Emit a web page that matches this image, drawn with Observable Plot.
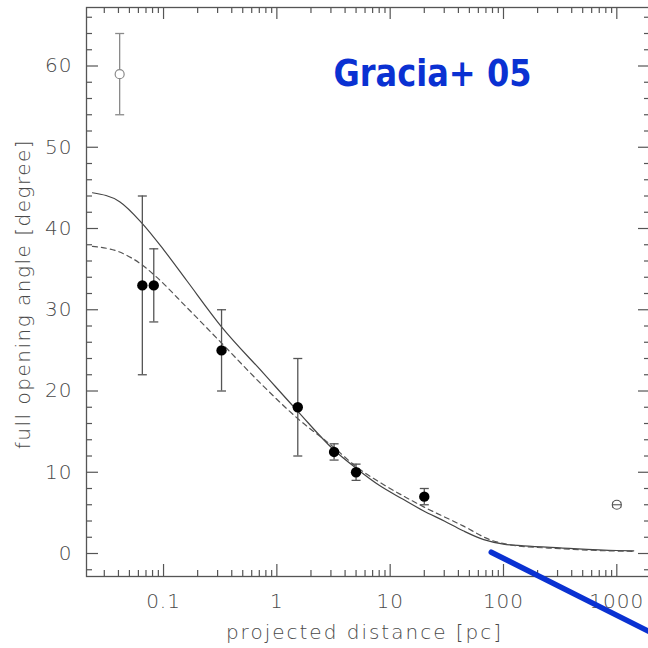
<!DOCTYPE html>
<html><head><meta charset="utf-8">
<script src="https://cdn.jsdelivr.net/npm/d3@7"></script>
<script src="https://cdn.jsdelivr.net/npm/@observablehq/plot@0.6"></script>
<style>
html,body{margin:0;padding:0;background:#fff;overflow:hidden;width:648px;height:648px}
#chart svg{max-width:none !important}
#chart svg .tk text{letter-spacing:1px}
#chart svg .lblx text{letter-spacing:2px}
#chart svg .lbly text{letter-spacing:1.5px}
</style>
</head><body><div id="chart"></div>
<script>
// measured points (filled) with error bars
const obsX  = [0.065, 0.082, 0.325, 1.53, 3.2, 5.0, 20];
const obsY  = [33, 33, 25, 18, 12.5, 10, 7];
const obsLo = [22, 28.5, 20, 12, 11.5, 9, 6];
const obsHi = [44, 37.5, 30, 24, 13.5, 11, 8];
// open points
const openX  = [0.041, 1000];
const openY  = [59, 6];
const openLo = [54, 5.7];
const openHi = [64, 6.3];
const openColor = ["#8a8a8a", "#555"];
// model curves
const solidX = [0.0236, 0.041, 0.065, 0.1, 0.16, 0.325, 0.76, 1.53, 3.16, 5.0, 8.0, 12.9, 19.4, 30, 44, 67, 100, 150, 316, 1000, 1410];
const solidY = [44.4, 43.3, 40.6, 37.4, 33.6, 27.9, 22.2, 17.5, 12.8, 10.5, 8.4, 6.7, 5.3, 4.0, 2.8, 1.7, 1.15, 0.95, 0.7, 0.37, 0.33];
const dashX  = [0.0236, 0.041, 0.065, 0.084, 0.16, 0.325, 0.76, 1.53, 3.16, 5.0, 8.0, 13.8, 19.4, 44, 76, 124, 316, 1000, 1410];
const dashY  = [37.8, 37.1, 35.5, 34.2, 30.3, 25.9, 20.6, 16.6, 13.1, 10.7, 8.8, 6.9, 5.8, 3.4, 1.7, 1.0, 0.6, 0.3, 0.27];
// blue annotation stroke
const blueX = [78, 2500];
const blueY = [0.16, -10.4];
// ticks
const xMajor = [0.1, 1, 10, 100, 1000];
const xTickLabels = ["0.1", "1", "10", "100", "1000"];
const yMajor = [0, 10, 20, 30, 40, 50, 60];
const yTickLabels = ["0", "10", "20", "30", "40", "50", "60"];
const xLabel = "projected distance [pc]";
const yLabel = "full opening angle [degree]";
const annotation = "Gracia+ 05";

const xDomain = [0.0209, 1983];
const yDomain = [-2.83, 67.2];
const xMinor = [];
for (let k = -2; k <= 3; k++) for (let m = 2; m <= 9; m++) {
  const v = m * Math.pow(10, k);
  if (v > xDomain[0] && v < xDomain[1]) xMinor.push(v);
}
const yMinor = d3.range(-2, 67, 2).filter(v => v % 10 !== 0);

const obs = obsX.map((x, i) => ({x, y: obsY[i], lo: obsLo[i], hi: obsHi[i]}));
const open = openX.map((x, i) => ({x, y: openY[i], lo: openLo[i], hi: openHi[i], c: openColor[i]}));
const solid = solidX.map((x, i) => ({x, y: solidY[i]}));
const dashed = dashX.map((x, i) => ({x, y: dashY[i]}));
const blue = blueX.map((x, i) => ({x, y: blueY[i]}));

const ML = 86, MT = 7, MB = 72, MR = 2, W = 652, H = 648;
const FW = W - ML - MR, FH = H - MT - MB;
const axisColor = "#555";
const textColor = "#4a4a4a";

const capSymbol = {draw(ctx, size) { const r = Math.sqrt(size / Math.PI); ctx.moveTo(-r, 0); ctx.lineTo(r, 0); }};

const chart = Plot.plot({
  width: W, height: H,
  marginLeft: ML, marginTop: MT, marginBottom: MB, marginRight: MR,
  style: {fontFamily: "'DejaVu Sans', sans-serif", fontWeight: 300, fontSize: "20px", color: axisColor, background: "white", overflow: "visible", maxWidth: "none"},
  x: {type: "log", domain: xDomain, axis: null},
  y: {domain: yDomain, axis: null},
  marks: [
    // ticks (inward) on all four sides
    Plot.ruleX(xMajor, {x: d => d, insetTop: FH - 12, stroke: axisColor, strokeWidth: 1.2}),
    Plot.ruleX(xMinor, {x: d => d, insetTop: FH - 6, stroke: axisColor, strokeWidth: 1.2}),
    Plot.ruleX(xMajor, {x: d => d, insetBottom: FH - 12, stroke: axisColor, strokeWidth: 1.2}),
    Plot.ruleX(xMinor, {x: d => d, insetBottom: FH - 6, stroke: axisColor, strokeWidth: 1.2}),
    Plot.ruleY(yMajor, {y: d => d, insetRight: FW - 12, stroke: axisColor, strokeWidth: 1.2}),
    Plot.ruleY(yMinor, {y: d => d, insetRight: FW - 6, stroke: axisColor, strokeWidth: 1.2}),
    Plot.ruleY(yMajor, {y: d => d, insetLeft: FW - 12, stroke: axisColor, strokeWidth: 1.2}),
    Plot.ruleY(yMinor, {y: d => d, insetLeft: FW - 6, stroke: axisColor, strokeWidth: 1.2}),
    // tick labels
    Plot.text(xMajor, {x: d => d, frameAnchor: "bottom", dy: 25, text: (d, i) => xTickLabels[i], textAnchor: "middle", lineAnchor: "middle", fill: textColor, className: "tk"}),
    Plot.text(yMajor, {y: d => d, frameAnchor: "left", dx: -14, text: (d, i) => yTickLabels[i], textAnchor: "end", lineAnchor: "middle", fill: textColor, className: "tk"}),
    Plot.frame({stroke: axisColor, strokeWidth: 1.3}),
    // curves
    Plot.line(solid, {x: "x", y: "y", stroke: "#444", strokeWidth: 1.2, curve: "monotone-x"}),
    Plot.line(dashed, {x: "x", y: "y", stroke: "#555", strokeWidth: 1.2, strokeDasharray: "5,4", curve: "monotone-x"}),
    // error bars
    Plot.ruleX(obs, {x: "x", y1: "lo", y2: "hi", stroke: "#555", strokeWidth: 1.3}),
    Plot.dot(obs, {x: "x", y: "lo", symbol: capSymbol, r: 4.5, stroke: "#555", fill: "none", strokeWidth: 1.3}),
    Plot.dot(obs, {x: "x", y: "hi", symbol: capSymbol, r: 4.5, stroke: "#555", fill: "none", strokeWidth: 1.3}),
    Plot.ruleX(open, {x: "x", y1: "lo", y2: "hi", stroke: "c", strokeWidth: 1.3}),
    Plot.dot(open, {x: "x", y: "lo", symbol: capSymbol, r: 4.5, stroke: "c", fill: "none", strokeWidth: 1.3}),
    Plot.dot(open, {x: "x", y: "hi", symbol: capSymbol, r: 4.5, stroke: "c", fill: "none", strokeWidth: 1.3}),
    // points
    Plot.dot(obs, {x: "x", y: "y", r: 5.2, fill: "black", stroke: "none"}),
    Plot.dot(open, {x: "x", y: "y", r: 4.5, fill: "white", stroke: "c", strokeWidth: 1.2}),
    Plot.dot(open.slice(1), {x: "x", y: "y", symbol: capSymbol, r: 4.5, stroke: "c", fill: "none", strokeWidth: 1.1}),
    // axis labels
    Plot.text([xLabel], {frameAnchor: "bottom", dy: 56, dx: -4, text: d => d, textAnchor: "middle", lineAnchor: "middle", fill: textColor, className: "lblx"}),
    Plot.text([yLabel], {frameAnchor: "left", dx: -63, dy: 2, rotate: -90, text: d => d, textAnchor: "middle", lineAnchor: "middle", fill: textColor, className: "lbly"}),
    // annotation
    Plot.text([annotation], {frameAnchor: "top-left", dx: 247, dy: 78, text: d => d, textAnchor: "start", lineAnchor: "bottom",
      fill: "#0a31d2", fontSize: 38, fontWeight: "bold", fontFamily: "'Comic Sans MS', 'DejaVu Sans', sans-serif", className: "gracia"}),
    // blue stroke
    Plot.line(blue, {x: "x", y: "y", stroke: "#0a31d2", strokeWidth: 5.5})
  ]
});
const g = chart.querySelector(".gracia text");
if (g) { g.setAttribute("textLength", "198"); g.setAttribute("lengthAdjust", "spacingAndGlyphs"); }
document.getElementById("chart").appendChild(chart);
</script>
</body></html>
